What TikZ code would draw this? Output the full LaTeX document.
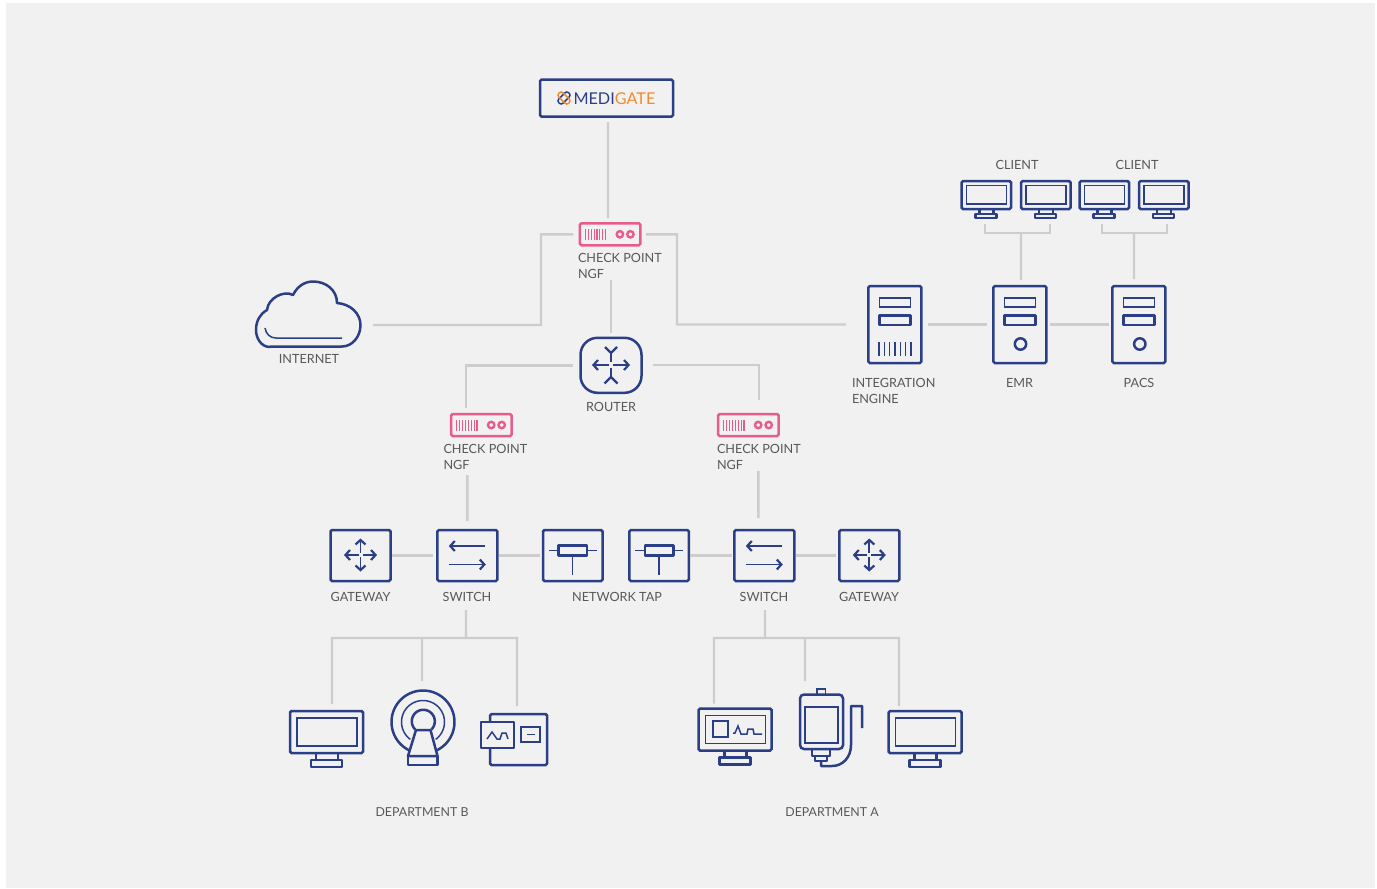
\documentclass[tikz,border=0pt]{standalone}
\usepackage{fontspec}
\setmainfont{Lato}
\usetikzlibrary{arrows.meta}
\definecolor{navy}{HTML}{2B3F87}
\definecolor{pinkc}{HTML}{E85C8A}
\definecolor{orangec}{HTML}{F58A2A}
\definecolor{connc}{HTML}{CDCDCD}
\definecolor{panel}{HTML}{F1F1F1}
\definecolor{txt}{HTML}{585858}
\tikzset{
  x=1bp,y=-1bp,
  every node/.style={inner sep=0pt,outer sep=0pt},
  wire/.style={draw=connc,line width=2.4bp},
  thick icon/.style={draw=navy,line width=2.5bp,line join=round},
  thin icon/.style={draw=navy,line width=1.5bp},
  boxnode/.style={draw=navy,line width=2.5bp,rounded corners=1.5bp,anchor=north west,minimum width=#1},
  lbl/.style={text=txt,font=\fontsize{12.7}{16}\selectfont,align=left},
  fw/.style={draw=navy,line width=1.7bp,-{Straight Barb[length=4.5bp,width=10bp,line width=2.2bp]}},
}
% name, left, top
\newcommand\bigmonitor[3]{\begin{scope}[shift={(#2,#3)}]
  \node[boxnode=73bp,minimum height=42bp] (#1) at (0,0) {};
  \draw[thin icon] (7,7) rectangle (67,35);
  \draw[thick icon] (26,42) -- (26,49) (48,42) -- (48,49);
  \draw[thick icon] (21,49) rectangle (52,56);
\end{scope}}
\newcommand\smallmonitor[3]{\begin{scope}[shift={(#2,#3)}]
  \node[boxnode=49.5bp,minimum height=28bp] (#1) at (0,0) {};
  \draw[thin icon] (5,4.5) rectangle (45,23);
  \draw[thick icon] (18,28) -- (18,33) (32,28) -- (32,33);
  \draw[thick icon] (14,33) rectangle (35,37);
\end{scope}}
\newcommand\checkpoint[3]{\begin{scope}[shift={(#2,#3)}]
  \node[boxnode=60.5bp,minimum height=22bp,draw=pinkc] (#1) at (0,0) {};
  \foreach \s in {5.5,8.4,11.3,14.2,17.1,20,22.9,25.8} \draw[pinkc,line width=1.1bp] (\s,6) -- (\s,17);
  \draw[pinkc,line width=2.4bp] (40,11) circle (3.2) (50.5,11) circle (3.2);
\end{scope}}
\newcommand\serverbody[3]{\begin{scope}[shift={(#2,#3)}]
  \node[boxnode=53bp,minimum height=77bp] (#1) at (0,0) {};
  \draw[thin icon] (11,12) rectangle (42,21);
  \draw[thick icon] (11,29.5) rectangle (42,39);
\end{scope}}
\newcommand\gateway[3]{\begin{scope}[shift={(#2,#3)}]
  \node[boxnode=60bp,minimum height=51bp] (#1) at (0,0) {};
  \draw[fw] (28,25) -- (13.5,25);
  \draw[fw] (32,25) -- (46.5,25);
  \draw[fw] (30,23) -- (30,8.5);
  \draw[fw] (30,27) -- (30,41.5);
\end{scope}}
\newcommand\switchbox[3]{\begin{scope}[shift={(#2,#3)}]
  \node[boxnode=60bp,minimum height=51bp] (#1) at (0,0) {};
  \draw[fw] (48,16) -- (11.5,16);
  \draw[fw] (12,34.5) -- (48.5,34.5);
\end{scope}}
\newcommand\tapbox[3]{\begin{scope}[shift={(#2,#3)}]
  \node[boxnode=59.5bp,minimum height=51bp] (#1) at (0,0) {};
  \draw[thick icon] (15.5,15.5) rectangle (44,25.5);
  \draw[thin icon] (6,20.5) -- (15.5,20.5) (44,20.5) -- (54,20.5) (29.5,25.5) -- (29.5,45);
\end{scope}}
\begin{document}
\begin{tikzpicture}
\useasboundingbox (0,0) rectangle (1377,888);
\fill[white] (0,0) rectangle (1377,888);
\fill[panel] (6,3) rectangle (1375,888);

% Medigate
\node[boxnode=133bp,minimum height=37bp] (mg) at (540,79.7) {};
\node[anchor=base west,font=\fontsize{16.3}{20}\selectfont,text=navy] (mgtext) at (573.5,104) {MEDI\textcolor{orangec}{GATE}};
\begin{scope}[shift={(564,98)}]
  \draw[navy,line width=1.5bp,rounded corners=2.6bp,rotate=45] (-7,-3) rectangle (7,3);
  \draw[orangec,line width=1.5bp,rounded corners=2.6bp,rotate=-45] (-7,-3) rectangle (7,3);
\end{scope}

% Firewalls
\checkpoint{cpa}{579.9}{223.3}
\checkpoint{cpb}{451.2}{414}
\checkpoint{cpc}{718.2}{414}
\node[lbl,anchor=north west] (cpal) at (578,253.7) {CHECK POINT\\NGF};
\node[lbl,anchor=north west] (cpbl) at (443.5,444.7) {CHECK POINT\\NGF};
\node[lbl,anchor=north west] (cpcl) at (717,444.7) {CHECK POINT\\NGF};

% Router
\node[draw=navy,line width=2.5bp,rounded corners=17bp,minimum width=61bp,minimum height=55bp,anchor=north west] (router) at (580.5,337.8) {};
\draw[fw] (609,365) -- (592,365);
\draw[fw] (613,365) -- (630,365);
\draw[thin icon] (611,353) -- (611,362) (611,368) -- (611,377);
\draw[navy,line width=2.2bp] (605,347) -- (611,353) -- (617,347) (604.5,383.5) -- (611,377) -- (617.5,383.5);
\node[lbl,anchor=base] (routerl) at (611,411) {ROUTER};

% Cloud
\node[minimum width=106bp,minimum height=66bp,anchor=north west] (cloud) at (255,281) {};
\draw[thick icon] (270,347) .. controls (261,347) and (256,338) .. (256,330)
  .. controls (256,321) and (260,314) .. (267,310)
  .. controls (268,298) and (284,290) .. (293,295)
  .. controls (298,285) and (306,281.5) .. (313,281.5)
  .. controls (326,281.5) and (337,290) .. (337,303)
  .. controls (351,304) and (360.5,314) .. (360.5,325)
  .. controls (360.5,337) and (352,346.5) .. (342,346.5) -- (270,346.5) -- cycle;
\draw[thin icon] (265,328) .. controls (266,334) and (270,338) .. (276,338) -- (342,338);
\node[lbl,anchor=base] (cloudl) at (309,363) {INTERNET};

% Servers
\serverbody{ie}{868.3}{286}
\foreach \s in {879,884.3,889.6,894.9,900.2,905.5,910.8} \draw[navy,line width=1.4bp] (\s,342) -- (\s,356);
\serverbody{emr}{993.3}{286}
\draw[thick icon] (1020.5,344) circle (5.7);
\serverbody{pacs}{1112.3}{286}
\draw[thick icon] (1139.8,344) circle (5.7);
\node[lbl,anchor=north west] (iel) at (852,378.7) {INTEGRATION\\ENGINE};
\node[lbl,anchor=base] (emrl) at (1019.5,387) {EMR};
\node[lbl,anchor=base] (pacsl) at (1139,387) {PACS};

% Clients
\smallmonitor{ma}{961.5}{181}
\smallmonitor{mb}{1021}{181}
\smallmonitor{mc}{1079.5}{181}
\smallmonitor{md}{1139}{181}
\node[lbl,anchor=base] (cl1) at (1017,169.5) {CLIENT};
\node[lbl,anchor=base] (cl2) at (1137,169.5) {CLIENT};

% Network row
\gateway{gwb}{330.5}{530}
\switchbox{swb}{437.3}{530}
\tapbox{tapb}{543}{530}
\tapbox{tapa}{629.3}{530}
\switchbox{swa}{734.3}{530}
\gateway{gwa}{839.3}{530}
\node[lbl,anchor=base] (gwbl) at (360.5,601.5) {GATEWAY};
\node[lbl,anchor=base] (swbl) at (467,601.5) {SWITCH};
\node[lbl,anchor=base] (tapl) at (617,601.5) {NETWORK TAP};
\node[lbl,anchor=base] (swal) at (764,601.5) {SWITCH};
\node[lbl,anchor=base] (gwal) at (869,601.5) {GATEWAY};

% Department B devices
\bigmonitor{dbm}{290}{711}
\node[minimum width=64bp,minimum height=75bp,anchor=north west] (mri) at (391,690) {};
\draw[thick icon] plot[smooth,samples=60,domain=-65:245] ({423+31.5*cos(\x)},{722-31.5*sin(\x)});
\draw[thin icon] plot[smooth,samples=50,domain=-54:234] ({423+21.5*cos(\x)},{722-21.5*sin(\x)});
\draw[thick icon] plot[smooth,samples=40,domain=-45:225] ({423.3+11.5*cos(\x)},{721.3-11.5*sin(\x)});
\draw[thick icon] (416,730) -- (430.5,730) -- (437.5,756) -- (408,756) -- cycle;
\draw[thick icon] (408,756) rectangle (437.5,765);
\node[boxnode=57bp,minimum height=51bp] (dev) at (490,714) {};
\draw[thick icon,fill=panel] (481,722) rectangle (514,748);
\draw[thin icon] (487,739) -- (492,732) -- (497,739) -- (500,739) -- (502,733) -- (506,733) -- (508,739);
\draw[thin icon] (521,727) rectangle (540,742);
\draw[thin icon] (527,734.5) -- (535,734.5);
\node[lbl,anchor=base] (dbl) at (422,816) {\fontsize{12.4}{15}\selectfont DEPARTMENT B};

% Department A devices
\bigmonitor{dam}{698.5}{708.5}
\draw[thin icon] (713,721) rectangle (728,737);
\draw[thin icon] (733,733) -- (735,733) -- (738,726) -- (741,734) -- (747,734) -- (748,729) -- (753,729) -- (754,734) -- (762,734);
\node[boxnode=43bp,minimum height=54.5bp,rounded corners=4bp] (pump) at (800,694.5) {};
\draw[thin icon] (817,689) rectangle (825.5,694.5);
\draw[thin icon] (805,707) rectangle (838,743);
\draw[thick icon] (812,749) rectangle (830,756);
\draw[thick icon] (815,756) rectangle (827,761);
\draw[thick icon] (862,728) -- (862,706) -- (851,706) -- (851,745) .. controls (851,757) and (843,766) .. (832,766) -- (821,766) -- (821,760);
\bigmonitor{dar}{888.5}{711}
\node[lbl,anchor=base] (dal) at (832,816) {\fontsize{12.4}{15}\selectfont DEPARTMENT A};

% Junction points
\coordinate (ja) at (541,325);
\coordinate (jb) at (677,324.5);
\coordinate (jBr) at (517,638);
\coordinate (jBm) at (422,638);
\coordinate (jBs) at (466,638);
\coordinate (jAr) at (899,638);
\coordinate (jAm) at (805,638);
\coordinate (jAs) at (765,638);
\coordinate (jE) at (1021,233);
\coordinate (jP) at (1134,233);

% Connectors
\draw[wire] ([xshift=1.5bp,yshift=-5.5bp]mg.south) -- ([xshift=-2.15bp,yshift=5.3bp]cpa.north);
\draw[wire] ([xshift=-6.5bp]cpa.west) -| (ja) -- ([xshift=12bp,yshift=-11bp]cloud.east);
\draw[wire] ([xshift=5.5bp]cpa.east) -| (jb) -- ([xshift=-22.3bp]ie.west);
\draw[wire,shorten <=34.7bp] ([xshift=.85bp]cpa.south) -- ([yshift=5bp]router.north);
\draw[wire] ([xshift=-8bp]router.west) -| ([xshift=-15.45bp,yshift=6bp]cpb.north);
\draw[wire] ([xshift=11bp,yshift=.5bp]router.east) -| ([xshift=10.55bp,yshift=14bp]cpc.north);
\draw[wire] ([xshift=-14.15bp,yshift=-39bp]cpb.south) -- ([yshift=9bp]swb.north);
\draw[wire] ([xshift=9.85bp,yshift=-35bp]cpc.south) -- ([xshift=-6bp,yshift=12bp]swa.north);
\draw[wire] ([xshift=1.5bp]gwb.east) -- ([xshift=-4bp]swb.west);
\draw[wire] ([xshift=2bp]swb.east) -- ([xshift=-3bp]tapb.west);
\draw[wire] ([xshift=1bp]tapa.east) -- ([xshift=-2bp]swa.west);
\draw[wire] ([xshift=2bp]swa.east) -- ([xshift=-3bp]gwa.west);
\draw[wire] ([xshift=-1.3bp,yshift=-29bp]swb.south) -- (jBs);
\draw[wire] ([xshift=5.5bp,yshift=7bp]dbm.north) |- (jBr) -- ([xshift=-1.5bp,yshift=8bp]dev.north);
\draw[wire] (jBm) -- ([xshift=-1bp,yshift=9bp]mri.north);
\draw[wire] ([xshift=.7bp,yshift=-29bp]swa.south) -- (jAs);
\draw[wire] ([xshift=-21bp,yshift=5bp]dam.north) |- (jAr) -- ([xshift=-26bp,yshift=5bp]dar.north);
\draw[wire] (jAm) -- ([xshift=-16.5bp,yshift=13.5bp]pump.north);
\draw[wire] ([xshift=6.7bp]ie.east) -- ([xshift=-6.3bp]emr.west);
\draw[wire] ([xshift=3.7bp]emr.east) -- ([xshift=-3.3bp]pacs.west);
\draw[wire] ([xshift=-1.25bp,yshift=-15bp]ma.south) |- ([xshift=4.25bp,yshift=-24bp]mb.south) -- ([xshift=4.25bp,yshift=-15bp]mb.south);
\draw[wire] ([xshift=1.2bp,yshift=6bp]emr.north) -- (jE);
\draw[wire] ([xshift=-2.25bp,yshift=-15bp]mc.south) |- ([xshift=3.25bp,yshift=-24bp]md.south) -- ([xshift=3.25bp,yshift=-15bp]md.south);
\draw[wire] ([xshift=-4.8bp,yshift=7bp]pacs.north) -- (jP);
\end{tikzpicture}
\end{document}
